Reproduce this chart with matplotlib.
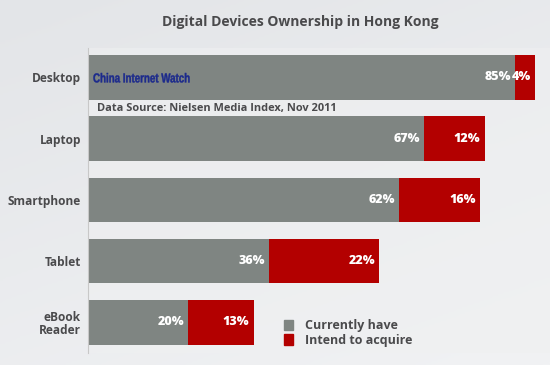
import numpy as np
import matplotlib.pyplot as plt
from matplotlib.patches import Patch, PathPatch
from matplotlib.textpath import TextPath
from matplotlib.font_manager import FontProperties
from matplotlib.transforms import Affine2D

categories = ["Desktop", "Laptop", "Smartphone", "Tablet", "eBook\nReader"]
have = [85, 67, 62, 36, 20]
intend = [4, 12, 16, 22, 13]
labels = ["Currently have", "Intend to acquire"]

GRAY = "#7f8582"
RED = "#b30000"
TXT = "#4a4a4c"
FONT = "Open Sans"

fig = plt.figure(figsize=(5.5, 3.65), dpi=100)

# light gray gradient background
bg = fig.add_axes([0, 0, 1, 1])
gx, gy = np.meshgrid(np.linspace(0, 1, 200), np.linspace(0, 1, 200))
grad = 0.35 * gx + 0.65 * (1 - gy)
bg.imshow(grad, cmap=plt.matplotlib.colors.LinearSegmentedColormap.from_list(
    "bg", ["#e3e5e8", "#f1f2f4"]), aspect="auto", extent=[0, 1, 0, 1], origin="lower")
bg.axis("off")

ax = fig.add_axes([88 / 550, 12 / 365, 462 / 550, 305 / 365])
ax.set_facecolor("#eff0f1")
ax.patch.set_alpha(0.6)

y = np.arange(len(categories))
b1 = ax.barh(y, have, height=0.73, color=GRAY, label=labels[0])
b2 = ax.barh(y, intend, left=have, height=0.73, color=RED, label=labels[1])

for bars, vals, lefts in [(b1, have, [0] * len(have)), (b2, intend, have)]:
    for bar, v, l in zip(bars, vals, lefts):
        ax.annotate(f"{v}%", (l + v, bar.get_y() + bar.get_height() / 2),
                    xytext=(-3, 0), textcoords="offset points", ha="right", va="center",
                    color="white", fontsize=9, fontweight=800, family=FONT)

ax.set_xlim(0, 92)
ax.set_ylim(4.5, -0.48)
ax.set_yticks(y)
ax.set_yticklabels(categories, fontsize=8.6, fontweight="bold", color=TXT, family=FONT,
                   linespacing=1.0)
ax.set_xticks([])
ax.tick_params(axis="y", length=0, pad=5)
for s in ["top", "right", "bottom"]:
    ax.spines[s].set_visible(False)
ax.spines["left"].set_color("#c8c8c8")
ax.spines["left"].set_linewidth(0.8)

fig.text(0.545, 0.94, "Digital Devices Ownership in Hong Kong", ha="center", va="center",
         fontsize=10, fontweight="bold", color=TXT, family=FONT)

# condensed watermark: squeeze a text path horizontally
wm = TextPath((0, 0), "China Internet Watch", size=13,
              prop=FontProperties(family="Liberation Sans", weight="bold"))
x0, y0 = ax.transData.transform((1.0, 0))
wm_tr = Affine2D().scale(0.75, 1.0).translate(x0, y0 - 5)
ax.add_artist(PathPatch(wm, transform=wm_tr, color="#1c2a8c", lw=0.3))

ax.text(1.8, 0.5, "Data Source: Nielsen Media Index, Nov 2011", ha="left", va="center",
        fontsize=7.9, fontweight="bold", color=TXT, family=FONT)

ax.legend(handles=[Patch(color=GRAY), Patch(color=RED)], labels=labels, loc="upper left",
          bbox_to_anchor=(0.40, 0.148), frameon=False, handlelength=0.7, handleheight=0.9,
          handletextpad=1.0, labelspacing=0.15, prop={"family": FONT, "weight": "bold", "size": 9},
          labelcolor=TXT)

fig.savefig("out.png", dpi=100)
